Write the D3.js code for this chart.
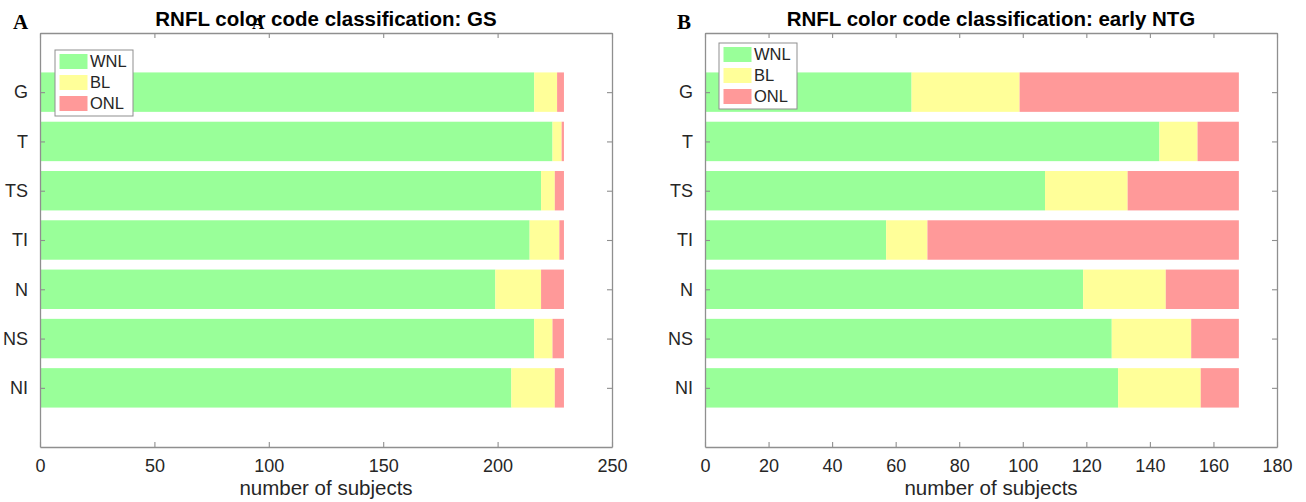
<!DOCTYPE html>
<html>
<head>
<meta charset="utf-8">
<script src="https://cdn.jsdelivr.net/npm/d3@7"></script>
<style>
  body { margin: 0; background: #fff; }
  text { font-family: "Liberation Sans", Arial, sans-serif; fill: #262626; }
</style>
</head>
<body>
<svg id="chart" width="1306" height="502"></svg>
<script>
// data
var categories = ["G", "T", "TS", "TI", "N", "NS", "NI"];
var classes = ["WNL", "BL", "ONL"];
var colors = ["#99ff99", "#ffff99", "#ff9999"];

var gsWNL = [216, 224, 219, 214, 199, 216, 206];
var gsBL  = [10, 4, 6, 13, 20, 8, 19];
var gsONL = [3, 1, 4, 2, 10, 5, 4];

var ntgWNL = [65, 143, 107, 57, 119, 128, 130];
var ntgBL  = [34, 12, 26, 13, 26, 25, 26];
var ntgONL = [69, 13, 35, 98, 23, 15, 12];

var gsTicks = [0, 50, 100, 150, 200, 250];
var ntgTicks = [0, 20, 40, 60, 80, 100, 120, 140, 160, 180];

var svg = d3.select("#chart");
var axisColor = "#8f8f8f";
var plotTop = 33, plotBottom = 447;
var serif = "'Liberation Serif', 'Times New Roman', serif";

function panel(opt) {
    var g = svg.append("g");
    var x = d3.scaleLinear().domain([0, opt.max]).range([opt.left, opt.right]);
    var y = d3.scaleLinear().domain([-1.2, categories.length + 0.2]).range([plotTop, plotBottom]);

    var rows = categories.map(function (c, i) {
        return {cat: c, i: i, WNL: opt.wnl[i], BL: opt.bl[i], ONL: opt.onl[i]};
    });
    var stack = d3.stack().keys(classes)(rows);

    g.selectAll("g.layer")
        .data(stack)
        .enter().append("g")
        .attr("class", "layer")
        .attr("fill", function (d, k) { return colors[k]; })
        .selectAll("rect")
        .data(function (d) { return d; })
        .enter().append("rect")
        .attr("x", function (d) { return x(d[0]); })
        .attr("width", function (d) { return x(d[1]) - x(d[0]); })
        .attr("y", function (d) { return y(d.data.i - 0.4); })
        .attr("height", function (d) { return y(d.data.i + 0.4) - y(d.data.i - 0.4); });

    // frame + ticks
    var xb = d3.axisBottom(x).tickValues(opt.ticks).tickSizeInner(-5).tickSizeOuter(0).tickPadding(12);
    var xt = d3.axisTop(x).tickValues(opt.ticks).tickSizeInner(-5).tickSizeOuter(0).tickFormat("");
    var yl = d3.axisLeft(y).tickValues(d3.range(categories.length))
        .tickFormat(function (i) { return categories[i]; }).tickSizeInner(-5).tickSizeOuter(0).tickPadding(12);
    var yr = d3.axisRight(y).tickValues(d3.range(categories.length))
        .tickSizeInner(-5).tickSizeOuter(0).tickFormat("");

    [[xb, "translate(0," + plotBottom + ")"], [xt, "translate(0," + plotTop + ")"],
     [yl, "translate(" + opt.left + ",0)"], [yr, "translate(" + opt.right + ",0)"]].forEach(function (a) {
        var ax = g.append("g").attr("transform", a[1]).call(a[0]);
        ax.select(".domain").attr("stroke", axisColor).attr("stroke-width", 1.3);
        ax.selectAll(".tick line").attr("stroke", axisColor).attr("stroke-width", 1.1);
        ax.selectAll(".tick text").attr("font-size", 18).attr("fill", "#262626");
    });

    // title & axis label
    g.append("text")
        .attr("x", (opt.left + opt.right) / 2).attr("y", 26)
        .attr("text-anchor", "middle")
        .attr("font-size", 20.5).attr("font-weight", "bold")
        .style("fill", "#000")
        .text(opt.title);
    g.append("text")
        .attr("x", (opt.left + opt.right) / 2).attr("y", 495)
        .attr("text-anchor", "middle")
        .attr("font-size", 20.5)
        .text("number of subjects");

    // panel letter
    g.append("text")
        .attr("x", opt.letterX).attr("y", 29)
        .style("font-family", serif)
        .attr("font-size", 21).attr("font-weight", "bold")
        .style("fill", "#000")
        .text(opt.letter);

    // legend
    var lg = g.append("g").attr("transform", "translate(" + opt.legX + "," + opt.legY + ")");
    lg.append("rect").attr("width", 78).attr("height", 66)
        .attr("fill", "#fff").attr("stroke", "#8f8f8f").attr("stroke-width", 1);
    classes.forEach(function (c, k) {
        lg.append("rect").attr("x", 4.5).attr("y", 4 + k * 21).attr("width", 28).attr("height", 15)
            .attr("fill", colors[k]);
        lg.append("text").attr("x", 35).attr("y", 11.5 + k * 21).attr("dy", "0.35em")
            .attr("font-size", 16.5).text(c);
    });
}

panel({
    left: 40, right: 612, max: 250, ticks: gsTicks,
    wnl: gsWNL, bl: gsBL, onl: gsONL,
    title: "RNFL color code classification: GS",
    letter: "A", letterX: 13, legX: 55, legY: 50
});
panel({
    left: 705, right: 1277, max: 180, ticks: ntgTicks,
    wnl: ntgWNL, bl: ntgBL, onl: ntgONL,
    title: "RNFL color code classification: early NTG",
    letter: "B", letterX: 677, legX: 719, legY: 43
});

// stray overlapping panel letter inside the left title
svg.append("text")
    .attr("x", 252).attr("y", 29)
    .style("font-family", serif)
    .attr("font-size", 17).attr("font-weight", "bold")
    .style("fill", "#000")
    .text("A");
</script>
</body>
</html>
